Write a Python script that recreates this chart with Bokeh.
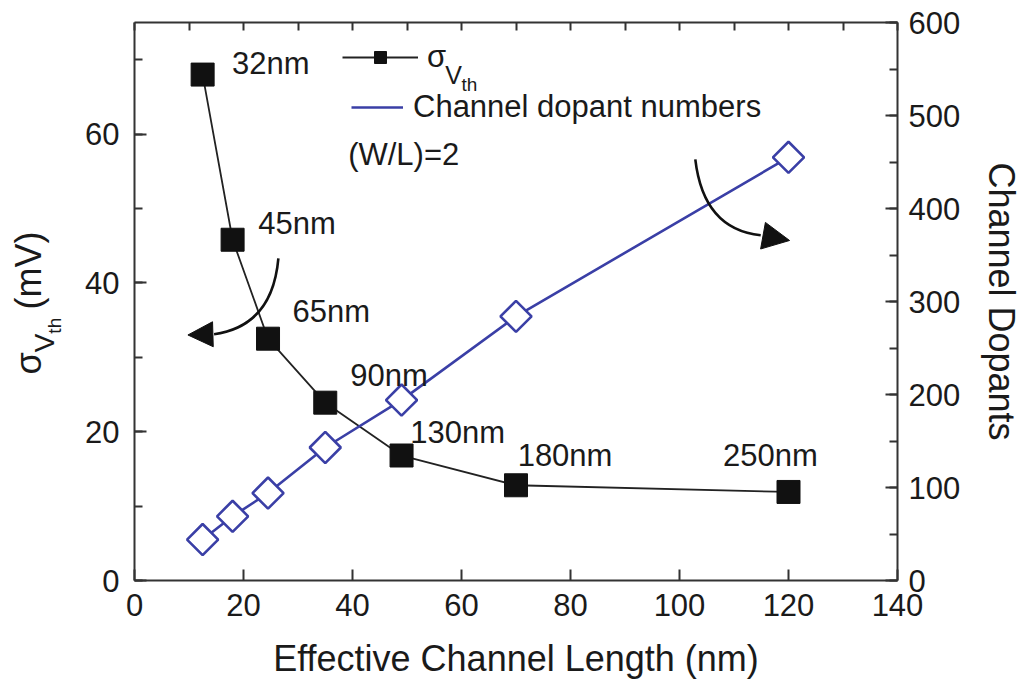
from bokeh.plotting import figure
from bokeh.layouts import row
from bokeh.models import (Range1d, LinearAxis, SingleIntervalTicker, Label, Legend, LegendItem,
                          Arrow, NormalHead, Div)
from bokeh.embed import file_html
from bokeh.resources import INLINE

# ---------------- data ----------------
length_nm = [12.5, 18, 24.5, 35, 49, 70, 120]
sigma_vth_mv = [68, 45.8, 32.5, 23.9, 16.8, 12.8, 11.9]
channel_dopants = [44, 69, 94, 143, 194, 284, 455]
node_labels = ["32nm", "45nm", "65nm", "90nm", "130nm", "180nm", "250nm"]
node_label_x = [17.9, 22.7, 29.0, 39.6, 50.6, 70.3, 108.0]
node_label_y = [69.5, 48.0, 36.2, 27.5, 19.9, 16.8, 16.8]

FONT = "Liberation Sans"
TXT = "#1a1a1a"
BLUE = "#3a3fa6"
H = 683
LW = 70

p = figure(x_range=Range1d(0, 140), y_range=Range1d(0, 75),
           frame_width=763, frame_height=558,
           min_border_left=134 - LW, min_border_right=118, min_border_top=22, min_border_bottom=100,
           output_backend="svg", toolbar_location=None)
p.extra_y_ranges = {"dop": Range1d(0, 600)}
p.xgrid.visible = False
p.ygrid.visible = False
p.outline_line_color = None
p.background_fill_color = "white"
p.border_fill_color = "white"

def style_axis(ax, font_size="31px"):
    ax.axis_line_width = 2
    ax.axis_line_color = "#333333"
    ax.major_tick_line_color = "#333333"
    ax.minor_tick_line_color = "#333333"
    ax.major_tick_line_width = 2
    ax.minor_tick_line_width = 2
    ax.major_tick_out = 0
    ax.minor_tick_out = 0
    ax.major_label_text_font = FONT
    ax.major_label_text_font_size = font_size
    ax.major_label_text_color = TXT
    ax.axis_label_text_font = FONT
    ax.axis_label_text_font_size = "36px"
    ax.axis_label_text_color = TXT
    ax.axis_label_text_font_style = "normal"

# bottom axis
xa = p.xaxis[0]
xa.ticker = SingleIntervalTicker(interval=20, num_minor_ticks=2)
style_axis(xa)
xa.major_tick_in = 11
xa.minor_tick_in = 0
xa.major_label_standoff = 13
xa.axis_label = "Effective Channel Length (nm)"
xa.axis_label_standoff = 19
xa.axis_label_text_line_height = 1.0

# left axis
ya = p.yaxis[0]
ya.ticker = SingleIntervalTicker(interval=20, num_minor_ticks=2)
style_axis(ya)
ya.major_tick_in = 12
ya.minor_tick_in = 8
ya.major_label_standoff = 15

# top axis (ticks only)
top = LinearAxis(ticker=SingleIntervalTicker(interval=10, num_minor_ticks=0))
style_axis(top)
top.major_tick_in = 8
top.major_label_overrides = {v: "" for v in range(0, 150, 10)}
top.major_label_standoff = 0
p.add_layout(top, "above")

# right axis
ra = LinearAxis(y_range_name="dop", ticker=SingleIntervalTicker(interval=100, num_minor_ticks=2))
style_axis(ra)
ra.major_tick_in = 12
ra.minor_tick_in = 8
ra.major_label_standoff = 11
ra.axis_label = "Channel Dopants"
ra.axis_label_standoff = 18
p.add_layout(ra, "right")

# ---------------- series ----------------
sig_line = p.line(length_nm, sigma_vth_mv, line_color="#222222", line_width=1.8)
sig_pts = p.scatter(length_nm, sigma_vth_mv, marker="square", size=23,
                    fill_color="#111111", line_color="#111111")
dop_line = p.line(length_nm, channel_dopants, y_range_name="dop", line_color=BLUE, line_width=2.6)
p.scatter(length_nm, channel_dopants, y_range_name="dop", marker="square", angle=0.785398,
          size=22, fill_color="white", line_color=BLUE, line_width=2.6)

def lab(x, y, t, size="31px", **kw):
    args = dict(x=x, y=y, text=t, text_font=FONT, text_font_size=size, text_color=TXT,
                text_align="left", text_baseline="middle")
    args.update(kw)
    p.add_layout(Label(**args))

# node labels
for t, x, y in zip(node_labels, node_label_x, node_label_y):
    lab(x, y, t)
lab(39.2, 57.3, "(W/L)=2")

# ---------------- legends ----------------
leg1 = Legend(items=[LegendItem(label="σ", renderers=[sig_line, sig_pts])],
              location=(208, 505), glyph_width=76, glyph_height=30, label_height=30,
              label_standoff=9, padding=0, margin=0, spacing=0,
              label_text_font=FONT, label_text_font_size="31px", label_text_color=TXT,
              border_line_alpha=0, background_fill_alpha=0)
leg2 = Legend(items=[LegendItem(label="Channel dopant numbers", renderers=[dop_line])],
              location=(217, 455), glyph_width=52, glyph_height=30, label_height=30,
              label_standoff=10, padding=0, margin=0, spacing=0,
              label_text_font=FONT, label_text_font_size="31px", label_text_color=TXT,
              border_line_alpha=0, background_fill_alpha=0)
p.add_layout(leg1, "center")
p.add_layout(leg2, "center")
# subscripts of sigma in legend
lab(57.0, 67.9, "V", size="25px")
lab(60.0, 66.6, "th", size="19px")

# ---------------- curved arrows ----------------
arrow_x0 = [26.4, 102.9]
arrow_y0 = [43.3, 56.6]
arrow_cx = [25.3, 104.4]
arrow_cy = [34.2, 47.2]
arrow_x1 = [14.6, 114.9]
arrow_y1 = [33.1, 46.4]
arrow_tx = [9.8, 120.2]
arrow_ty = [33.0, 45.7]
p.quadratic(x0=arrow_x0, y0=arrow_y0, cx=arrow_cx, cy=arrow_cy, x1=arrow_x1, y1=arrow_y1,
            line_color="#111111", line_width=2.6)
for xs, ys, xe, ye, sz in zip(arrow_x1, arrow_y1, arrow_tx, arrow_ty, [25, 27]):
    p.add_layout(Arrow(end=NormalHead(size=sz, fill_color="#111111", line_color="#111111", line_width=1),
                       x_start=xs, y_start=ys, x_end=xe, y_end=ye, line_width=0, line_alpha=0))

# ---------------- left axis title: sigma_Vth (mV) ----------------
y_title_html = (
    '<div style="position:relative;width:%dpx;height:%dpx;">'
    '<div style="position:absolute;left:%dpx;top:%dpx;width:220px;height:40px;line-height:40px;'
    'transform:rotate(-90deg);transform-origin:50%% 50%%;text-align:center;white-space:nowrap;'
    'font-family:\'%s\';font-size:36px;color:%s;">'
    'σ<span style="font-size:28px;position:relative;top:13px;line-height:0;">V'
    '<span style="font-size:19px;position:relative;top:7px;line-height:0;">th</span></span>'
    '<span style="font-size:30px;"> </span>(mV)</div></div>'
) % (LW, H, 29 - 110, 303 - 20, FONT, TXT)
lf = Div(text=y_title_html, width=LW, height=H, margin=0)

open("out.html", "w").write(file_html(row(lf, p), INLINE))
